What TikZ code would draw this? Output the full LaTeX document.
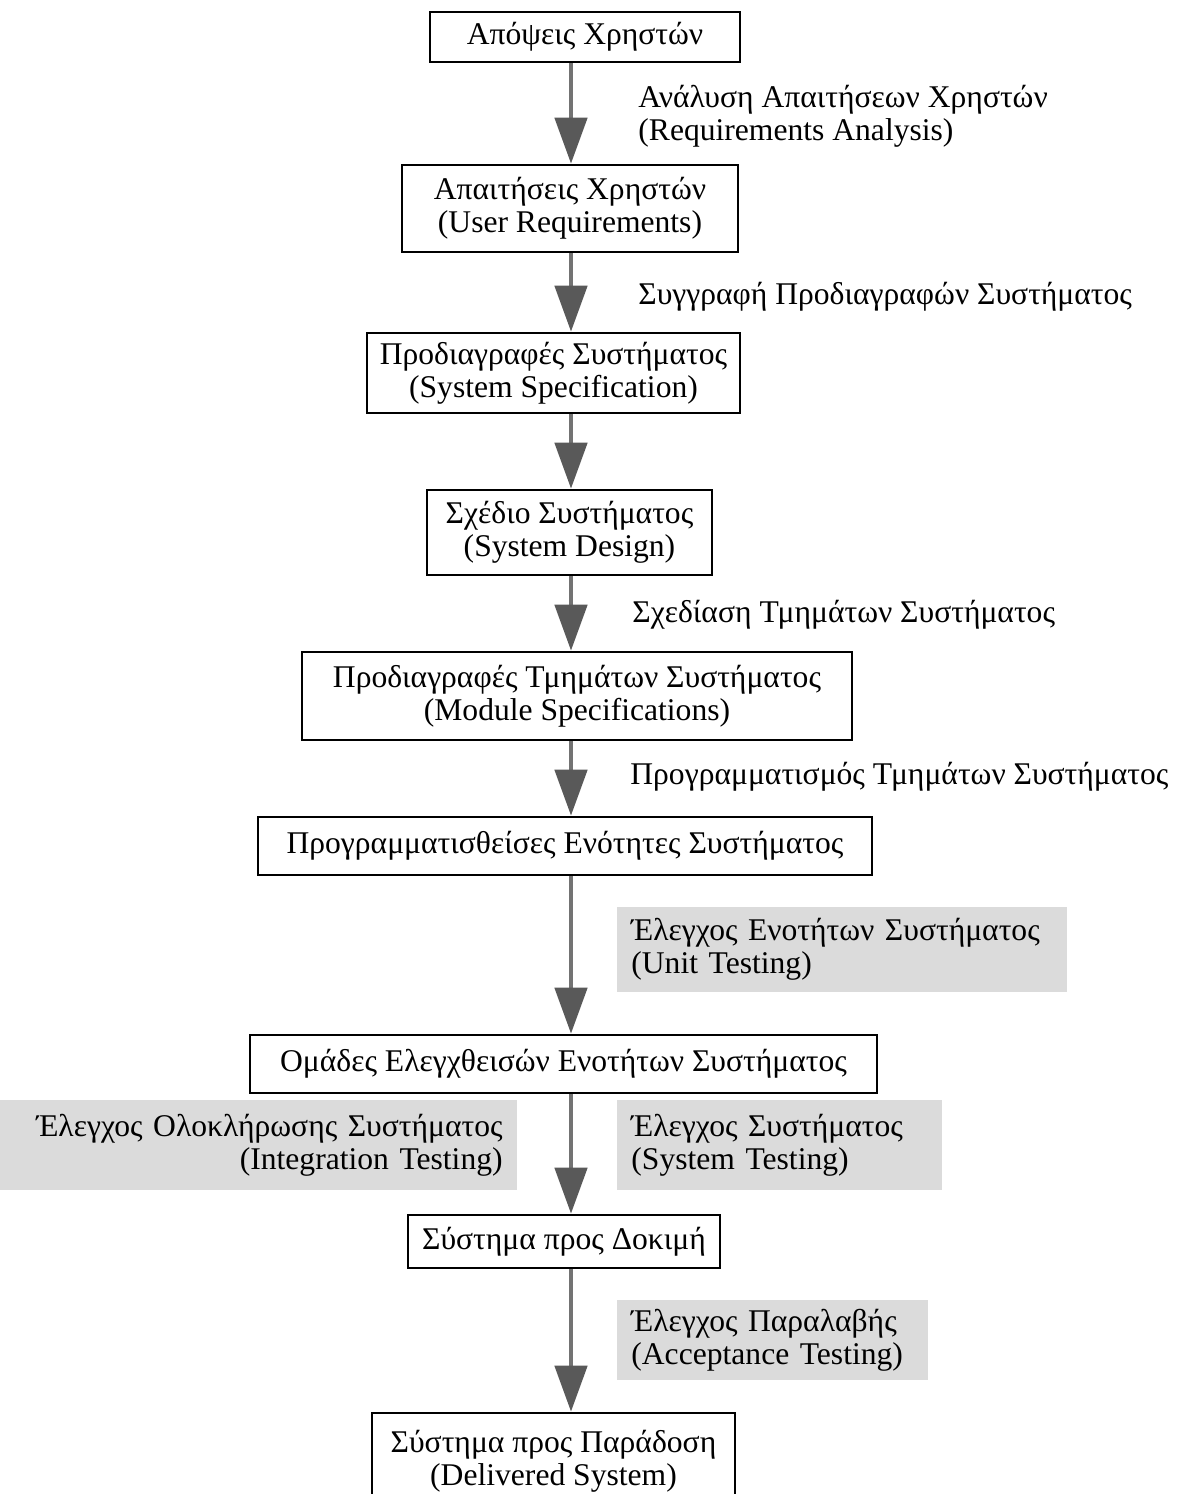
\documentclass[tikz,border=0pt]{standalone}
\usepackage{fontspec}
\setmainfont{Liberation Serif}
\usetikzlibrary{arrows.meta}

\begin{document}
\begin{tikzpicture}[
  x = 0.5pt, y = -0.5pt,
  every node/.style = {font=\fontsize{15.8}{16.5}\selectfont},
  box/.style  = {draw, rectangle, line width=1.3pt, align=center,
                 fill=white, inner sep=3pt},
  lbl/.style  = {align=left, inner sep=0pt, anchor=west},
  note/.style = {fill=black!14, inner xsep=7pt, inner ysep=3pt},
  flow/.style = {draw=black!55, line width=2.4pt,
                 -{Triangle[width=16pt, length=23pt, color=black!65]}},
]
\useasboundingbox (0,0) rectangle (1186,1494);

% axis of all the arrows
\coordinate (axis) at (571,0);

% --- user side --------------------------------------------------------
\node[box, minimum width=155pt, minimum height=25pt] (ux) at (585,37) {Απόψεις Χρηστών};
\node[box, minimum width=168pt, minimum height=43.5pt] (req) at (570,208.5)
  {Απαιτήσεις Χρηστών\\ (User Requirements)};
\draw[flow] (ux.south -| axis) -- (req.north -| axis);
\node[lbl] (ra) at (638,116)
  {Ανάλυση Απαιτήσεων Χρηστών\\ (Requirements Analysis)};

% --- specification and design -----------------------------------------
\node[box, minimum width=186.5pt, minimum height=40pt] (spec) at (553.5,373)
  {Προδιαγραφές Συστήματος\\ (System Specification)};
\draw[flow] (req.south -| axis) -- (spec.north -| axis);
\node[lbl] (sw) at (638,297) {Συγγραφή Προδιαγραφών Συστήματος};

\node[box, minimum width=142.5pt, minimum height=42.5pt] (des) at (569.5,532.5)
  {Σχέδιο Συστήματος\\ (System Design)};
\draw[flow] (spec.south -| axis) -- (des.north -| axis);

\node[box, minimum width=275pt, minimum height=44pt] (mod) at (577,696)
  {Προδιαγραφές Τμημάτων Συστήματος\\ (Module Specifications)};
\draw[flow] (des.south -| axis) -- (mod.north -| axis);
\node[lbl] (md) at (632,615) {Σχεδίαση Τμημάτων Συστήματος};

% --- coding -------------------------------------------------------------
\node[box, minimum width=307pt, minimum height=29pt] (prog) at (565,846)
  {Προγραμματισθείσες Ενότητες Συστήματος};
\draw[flow] (mod.south -| axis) -- (prog.north -| axis);
\node[lbl] (pc) at (630,777) {Προγραμματισμός Τμημάτων Συστήματος};

% --- testing ------------------------------------------------------------
\node[box, minimum width=313.5pt, minimum height=29pt] (grp) at (563.5,1064)
  {Ομάδες Ελεγχθεισών Ενοτήτων Συστήματος};
\draw[flow] (prog.south -| axis) -- (grp.north -| axis);
\node[lbl, note, text width=211pt, minimum height=42.5pt] (ut) at (617,949.5)
  {Έλεγχος Ενοτήτων Συστήματος\\ (Unit Testing)};

\node[box, minimum width=156pt, minimum height=26.5pt] (tst) at (564,1241.5)
  {Σύστημα προς Δοκιμή};
\draw[flow] (grp.south -| axis) -- (tst.north -| axis);
\node[note, align=right, anchor=east, text width=244.5pt, minimum height=45pt] (it) at (517,1145)
  {Έλεγχος Ολοκλήρωσης Συστήματος\\ (Integration Testing)};
\node[lbl, note, text width=148.5pt, minimum height=45pt] (st) at (617,1145)
  {Έλεγχος Συστήματος\\ (System Testing)};

\node[box, minimum width=181.5pt, minimum height=48pt] (del) at (553.5,1461)
  {Σύστημα προς Παράδοση\\ (Delivered System)};
\draw[flow] (tst.south -| axis) -- (del.north -| axis);
\node[lbl, note, text width=141.5pt, minimum height=40pt] (at) at (617,1340)
  {Έλεγχος Παραλαβής\\ (Acceptance Testing)};

\end{tikzpicture}
\end{document}
